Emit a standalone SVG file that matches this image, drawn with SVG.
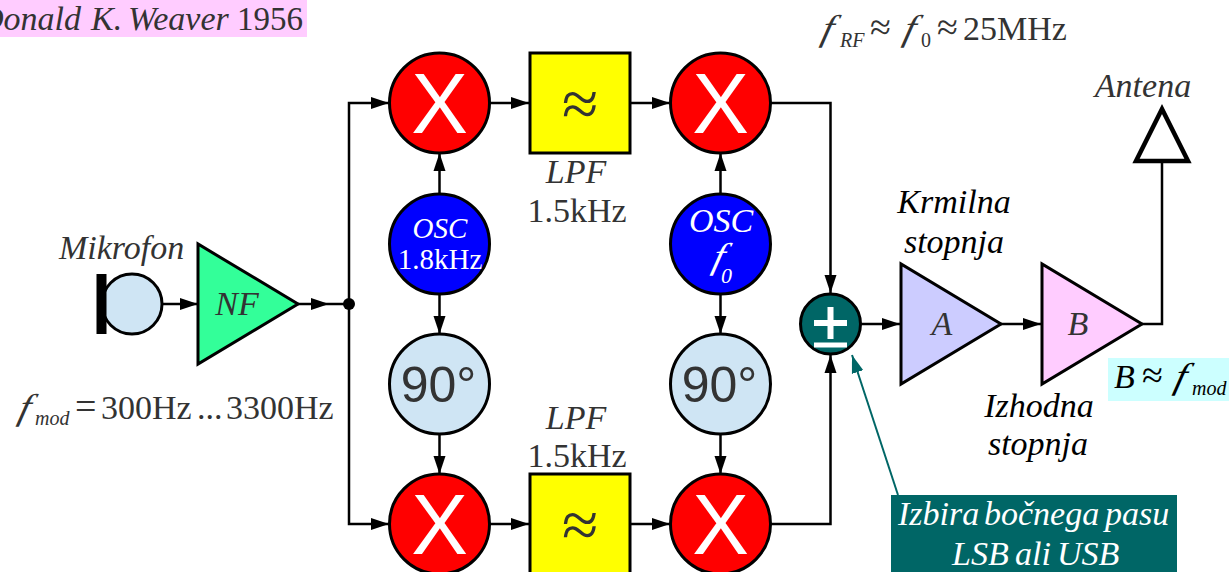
<svg xmlns="http://www.w3.org/2000/svg" width="1229" height="572" viewBox="0 0 1229 572">
<style>
text{font-family:"Liberation Serif",serif;font-size:34px;fill:#333}
.i{font-style:italic}.m{text-anchor:middle}.k{fill:#000}.w{fill:#fff}
.s{font-size:20px}
.ap{font-size:38px}
.f{font-size:36px;font-style:italic}
.n{stroke:#000;stroke-width:3}
.c{fill:none;stroke:#000;stroke-width:2.5}
.x{font-family:"Liberation Sans",sans-serif;font-size:85px;fill:#fff;text-anchor:middle}
.deg{font-family:"Liberation Sans",sans-serif;font-size:50px;text-anchor:middle}
.lp{font-size:66px;text-anchor:middle}
.red{fill:#f00}.yel{fill:#ff0}.blu{fill:#00f}.lb{fill:#cfe5f4}
</style>
<defs>
<marker id="a" markerUnits="userSpaceOnUse" markerWidth="18" markerHeight="14" refX="18" refY="7" orient="auto"><path d="M0 1L18 7L0 13Z" fill="#000"/></marker>
<marker id="t" markerUnits="userSpaceOnUse" markerWidth="18" markerHeight="14" refX="18" refY="7" orient="auto"><path d="M0 1L18 7L0 13Z" fill="#006666"/></marker>
</defs>
<rect x="0" y="0" width="307" height="37" fill="#fcf"/>
<text x="-21" y="30" class="i">Donald</text><text x="91" y="30" class="i">K.</text><text x="128" y="30" class="i">Weaver</text><text x="237" y="30" style="font-size:33px">1956</text>
<g id="connectors">
<path class="c" d="M162 304H198" marker-end="url(#a)"/>
<path class="c" d="M298 304H329" marker-end="url(#a)"/>
<path class="c" d="M329 304H349"/>
<path class="c" d="M349 304V103H389" marker-end="url(#a)"/>
<path class="c" d="M349 304V524H389" marker-end="url(#a)"/>
<path class="c" d="M490 103H529" marker-end="url(#a)"/>
<path class="c" d="M631 103H670" marker-end="url(#a)"/>
<path class="c" d="M490 524H529" marker-end="url(#a)"/>
<path class="c" d="M631 524H670" marker-end="url(#a)"/>
<path class="c" d="M439.500 194V153" marker-end="url(#a)"/>
<path class="c" d="M720.500 194V153" marker-end="url(#a)"/>
<path class="c" d="M439.500 294V334" marker-end="url(#a)"/>
<path class="c" d="M720.500 294V334" marker-end="url(#a)"/>
<path class="c" d="M439.500 434V474" marker-end="url(#a)"/>
<path class="c" d="M720.500 434V474" marker-end="url(#a)"/>
<path class="c" d="M771 103H830.500V293" marker-end="url(#a)"/>
<path class="c" d="M771 524H830.500V355" marker-end="url(#a)"/>
<path class="c" d="M861 324H900" marker-end="url(#a)"/>
<path class="c" d="M1001 324H1041" marker-end="url(#a)"/>
<path class="c" d="M1142 324H1162V160"/>
<path d="M898 495L852 355" fill="none" stroke="#006666" stroke-width="2" marker-end="url(#t)"/>
<circle cx="349" cy="304" r="6" fill="#000"/>
</g>
<g id="mic">
<circle class="n" cx="132" cy="304" r="30" fill="#cfe5f4"/>
<rect x="96.500" y="274" width="10" height="60" fill="#000"/>
</g>
<text x="59" y="259" class="i">Mikrofon</text>
<g id="nf"><path class="n" d="M198 244V364L298 304Z" fill="#3f9"/><text x="237" y="315" class="i m">NF</text></g>
<text transform="translate(17 419) skewX(-14) scale(1.1 1)" class="f">f</text><text x="35" y="425" class="i s">mod</text><text x="75" y="419" class="ap">=</text><text x="101" y="419">300Hz</text><text x="197" y="419">...</text><text x="226" y="419">3300Hz</text>
<g id="mix1"><circle class="n red" cx="439.500" cy="103" r="50"/><text class="x" x="439.500" y="133">X</text></g>
<g id="lpf1"><rect class="n yel" x="530" y="53" width="100" height="100"/><text class="lp" x="580" y="126">≈</text></g>
<g id="mix2"><circle class="n red" cx="720.500" cy="103" r="50"/><text class="x" x="720.500" y="133">X</text></g>
<text class="i m" x="576" y="183">LPF</text><text class="m" x="577" y="222">1.5kHz</text>
<g id="osc1"><circle class="n blu" cx="439.500" cy="244" r="50"/><text class="i m w" x="440" y="238" style="font-size:29px">OSC</text><text class="m w" x="440" y="269" style="font-size:29px">1.8kHz</text></g>
<g id="osc2"><circle class="n blu" cx="720.500" cy="244" r="50"/><text class="i m w" x="721" y="232">OSC</text><text transform="translate(711 268) skewX(-14) scale(1.1 1)" class="f w">f</text><text class="i w" x="721" y="283" style="font-size:22px">0</text></g>
<g id="ph1"><circle class="n lb" cx="439.500" cy="384" r="50"/><text class="deg" x="438.500" y="402">90°</text></g>
<g id="ph2"><circle class="n lb" cx="720.500" cy="384" r="50"/><text class="deg" x="719.500" y="402">90°</text></g>
<text class="i m" x="576" y="429">LPF</text><text class="m" x="577" y="467">1.5kHz</text>
<g id="mix3"><circle class="n red" cx="439.500" cy="524" r="50"/><text class="x" x="439.500" y="554">X</text></g>
<g id="lpf2"><rect class="n yel" x="530" y="474" width="100" height="100"/><text class="lp" x="580" y="547">≈</text></g>
<g id="mix4"><circle class="n red" cx="720.500" cy="524" r="50"/><text class="x" x="720.500" y="554">X</text></g>
<g id="sum"><circle class="n" cx="830.500" cy="324" r="30" fill="#006666"/><path d="M814 323H847M830.500 307V339" stroke="#fff" stroke-width="6" fill="none"/><path d="M814 345H847" stroke="#fff" stroke-width="5"/></g>
<g id="a-amp"><path class="n" d="M901 264V384L1001 324Z" fill="#ccf"/><text class="i m" x="942" y="335">A</text></g>
<g id="b-amp"><path class="n" d="M1042 264V384L1142 324Z" fill="#fcf"/><text class="i m" x="1078" y="335">B</text></g>
<g id="antenna"><path d="M1162 109L1136 161H1188Z" fill="#fff" stroke="#000" stroke-width="4.500"/></g>
<text x="1143" y="97" class="i m">Antena</text>
<text transform="translate(820 40) skewX(-14) scale(1.1 1)" class="f">f</text><text x="840" y="47" class="i s">RF</text><text x="870" y="40" class="ap">≈</text><text transform="translate(902 40) skewX(-14) scale(1.1 1)" class="f">f</text><text x="921" y="47" class="s">0</text><text x="937" y="40" class="ap">≈</text><text x="963" y="40">25MHz</text>
<text class="i m k" x="954" y="213">Krmilna</text><text class="i m k" x="954" y="253">stopnja</text>
<text class="i m k" x="1039" y="417">Izhodna</text><text class="i m k" x="1038" y="455">stopnja</text>
<rect x="1108" y="358" width="121" height="43" fill="#cff"/>
<text x="1114" y="388" class="i k">B</text><text x="1142" y="388" class="k ap">≈</text><text transform="translate(1173 388) skewX(-14) scale(1.1 1)" class="f k">f</text><text x="1192" y="395" class="i s k">mod</text>
<g id="note"><rect x="891" y="495" width="286" height="77" fill="#006666"/><text class="i w" x="898" y="525">Izbira</text><text class="i w" x="984" y="525">bočnega</text><text class="i w" x="1105" y="525">pasu</text><text class="i w" x="952" y="565">LSB</text><text class="i w" x="1015" y="565">ali</text><text class="i w" x="1057" y="565">USB</text></g>
</svg>
